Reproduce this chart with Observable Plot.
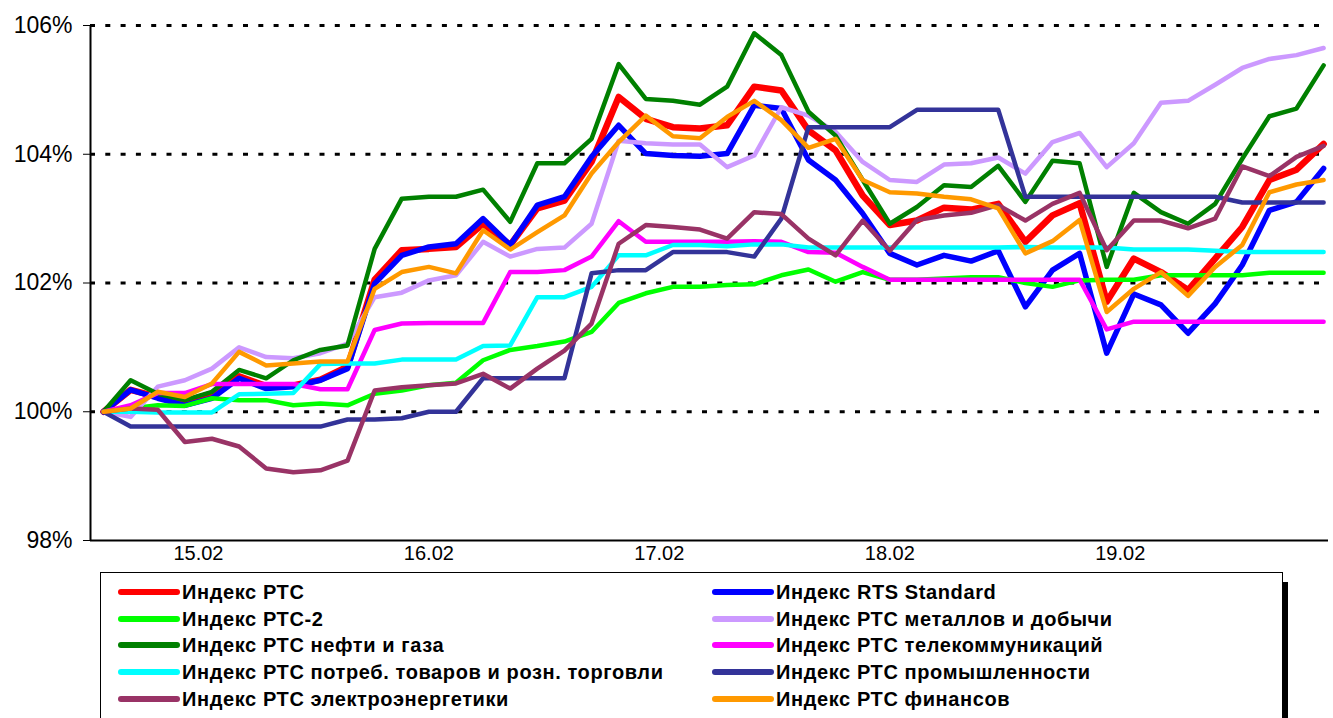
<!DOCTYPE html>
<html>
<head>
<meta charset="utf-8">
<script src="https://cdn.jsdelivr.net/npm/d3@7"></script>
<script src="https://cdn.jsdelivr.net/npm/@observablehq/plot@0.6"></script>
<style>
  html, body { margin: 0; padding: 0; background: #fff; overflow: hidden; width: 1333px; height: 718px; }
  #chart { position: absolute; left: 0; top: 0; }
  #legend { position: absolute; left: 100px; top: 572px; width: 1181px; height: 170px; border: 1px solid #000; box-shadow: 5px 10px 0 #000; background: #fff; font-family: "Liberation Sans", Arial, sans-serif; font-weight: bold; font-size: 20px; letter-spacing: 0.6px; color: #000; }
  .item { position: absolute; height: 26px; line-height: 26px; white-space: nowrap; }
  .sw { position: absolute; top: 10px; width: 62px; height: 6px; border-radius: 3px; }
  .lbl { position: absolute; left: 64px; top: 0; }
</style>
</head>
<body>
<div id="chart"></div>
<div id="legend"></div>
<script>
// ---- data ----
const dateLabels = ["15.02", "16.02", "17.02", "18.02", "19.02"];
const dateTickAt = [3.5, 12, 20.5, 29, 37.5];
const yTicks = [98, 100, 102, 104, 106];
const gridLevels = [100, 102, 104, 106];

const seriesNames = [
  "Индекс РТС",
  "Индекс RTS Standard",
  "Индекс РТС-2",
  "Индекс РТС металлов и добычи",
  "Индекс РТС нефти и газа",
  "Индекс РТС телекоммуникаций",
  "Индекс РТС потреб. товаров и розн. торговли",
  "Индекс РТС промышленности",
  "Индекс РТС электроэнергетики",
  "Индекс РТС финансов"
];

const rts = [100,100.34,100.23,100.16,100.28,100.55,100.40,100.41,100.50,100.70,
  102.05,102.51,102.53,102.56,102.92,102.59,103.16,103.28,103.88,104.89,
  104.55,104.42,104.40,104.45,105.05,104.99,104.37,104.06,103.36,102.90,
  102.97,103.17,103.14,103.23,102.64,103.05,103.24,101.71,102.38,102.17,
  101.89,102.38,102.87,103.60,103.76,104.16];
const rtsStandard = [100,100.34,100.21,100.10,100.21,100.52,100.36,100.39,100.49,100.67,
  101.99,102.43,102.56,102.61,103.00,102.59,103.21,103.34,103.96,104.45,
  104.01,103.98,103.97,104.01,104.76,104.71,103.91,103.60,103.08,102.46,
  102.28,102.43,102.34,102.50,101.63,102.20,102.46,100.91,101.83,101.66,
  101.22,101.68,102.28,103.13,103.26,103.78];
const rts2 = [100,100.05,100.10,100.09,100.21,100.18,100.18,100.10,100.13,100.10,
  100.28,100.33,100.41,100.45,100.80,100.96,101.02,101.09,101.24,101.69,
  101.84,101.94,101.94,101.97,101.98,102.12,102.21,102.02,102.17,102.05,
  102.05,102.07,102.09,102.09,102.00,101.94,102.04,102.05,102.05,102.12,
  102.12,102.12,102.12,102.16,102.16,102.16];
const metals = [100,99.92,100.39,100.49,100.67,101.00,100.85,100.83,100.91,101.06,
  101.78,101.85,102.04,102.12,102.64,102.41,102.53,102.55,102.92,104.21,
  104.17,104.15,104.15,103.80,103.98,104.73,104.60,104.35,103.88,103.60,
  103.57,103.84,103.86,103.95,103.70,104.19,104.33,103.80,104.17,104.80,
  104.83,105.08,105.34,105.48,105.54,105.65];
const oilGas = [100,100.49,100.28,100.18,100.31,100.65,100.52,100.80,100.96,101.03,
  102.53,103.31,103.34,103.34,103.45,102.95,103.86,103.86,104.24,105.40,
  104.86,104.83,104.77,105.05,105.88,105.54,104.66,104.29,103.60,102.92,
  103.18,103.52,103.49,103.82,103.26,103.90,103.86,102.25,103.40,103.10,
  102.92,103.23,103.93,104.59,104.71,105.38];
const telecom = [100,100.10,100.29,100.29,100.43,100.43,100.43,100.43,100.35,100.35,
  101.27,101.37,101.38,101.38,101.38,102.17,102.17,102.20,102.41,102.96,
  102.64,102.64,102.64,102.64,102.65,102.64,102.48,102.47,102.25,102.05,
  102.05,102.05,102.05,102.05,102.05,102.05,102.05,101.28,101.40,101.40,
  101.40,101.40,101.40,101.40,101.40,101.40];
const consumer = [100,100.00,99.99,99.99,99.99,100.27,100.28,100.29,100.74,100.75,
  100.75,100.81,100.81,100.81,101.02,101.03,101.78,101.78,101.94,102.43,
  102.43,102.59,102.59,102.57,102.60,102.60,102.55,102.55,102.55,102.55,
  102.55,102.55,102.55,102.55,102.56,102.55,102.55,102.55,102.52,102.52,
  102.52,102.50,102.48,102.48,102.48,102.48];
const industry = [100,99.77,99.77,99.77,99.77,99.77,99.77,99.77,99.77,99.88,
  99.88,99.90,100.00,100.00,100.52,100.52,100.52,100.52,102.15,102.20,
  102.20,102.48,102.48,102.48,102.41,103.00,104.42,104.42,104.42,104.42,
  104.69,104.69,104.69,104.69,103.34,103.34,103.34,103.34,103.34,103.34,
  103.34,103.34,103.25,103.25,103.25,103.25];
const power = [100,100.05,100.03,99.53,99.58,99.46,99.12,99.06,99.09,99.24,
  100.33,100.38,100.41,100.44,100.59,100.36,100.67,100.95,101.37,102.61,
  102.90,102.87,102.83,102.69,103.10,103.07,102.69,102.43,102.97,102.50,
  102.98,103.05,103.09,103.21,102.97,103.23,103.40,102.51,102.97,102.97,
  102.85,103.00,103.81,103.66,103.96,104.13];
const finance = [100,100.05,100.31,100.23,100.44,100.93,100.72,100.75,100.78,100.78,
  101.91,102.17,102.25,102.15,102.82,102.52,102.79,103.05,103.70,104.19,
  104.60,104.28,104.25,104.58,104.83,104.53,104.10,104.24,103.60,103.41,
  103.39,103.34,103.30,103.16,102.46,102.65,102.98,101.55,101.91,102.17,
  101.80,102.25,102.59,103.41,103.53,103.60];

const seriesValues = [rts, rtsStandard, rts2, metals, oilGas, telecom, consumer, industry, power, finance];

// ---- styles ----
const seriesColors = ["#FF0000", "#0000FF", "#00FF00", "#CC99FF", "#008000", "#FF00FF", "#00FFFF", "#333399", "#993366", "#FF9900"];
const seriesWidths = [6.5, 5.5, 4.5, 4.5, 4.5, 4.5, 4.5, 4.5, 4.5, 4.5];

const xMin = -0.48, xMax = 45.18;

const lineMarks = seriesValues.map((vals, s) =>
  Plot.line(vals.map((v, i) => ({i, v})), {
    x: "i", y: "v",
    stroke: seriesColors[s],
    strokeWidth: seriesWidths[s],
    strokeLinejoin: "round",
    strokeLinecap: "round"
  })
);

const chart = Plot.plot({
  width: 1333,
  height: 572,
  marginTop: 25,
  marginBottom: 32,
  marginLeft: 90,
  marginRight: 5,
  style: { fontFamily: "'Liberation Sans', Arial, sans-serif", background: "#fff", color: "#000" },
  x: { domain: [xMin, xMax] },
  y: { domain: [98, 106] },
  marks: [
    Plot.ruleY(gridLevels, { stroke: "#000", strokeWidth: 3, strokeDasharray: "5,10.3" }),
    ...lineMarks,
    Plot.ruleX([xMin], { stroke: "#000", strokeWidth: 2 }),
    Plot.ruleY([98], { stroke: "#000", strokeWidth: 2 }),
    Plot.axisY({ ticks: yTicks, tickFormat: d => d + "%", tickSize: 7, tickPadding: 11, fontSize: 23, label: null }),
    Plot.axisX({ ticks: dateTickAt, tickFormat: (d, i) => dateLabels[i], tickSize: 0, tickPadding: 5, fontSize: 20, label: null })
  ]
});
document.getElementById("chart").appendChild(chart);

// ---- legend ----
const legend = document.getElementById("legend");
seriesNames.forEach((name, s) => {
  const col = s % 2, row = Math.floor(s / 2);
  const item = document.createElement("div");
  item.className = "item";
  item.style.left = (col === 0 ? 17 : 611) + "px";
  item.style.top = (6 + row * 26.7) + "px";
  const sw = document.createElement("div");
  sw.className = "sw";
  sw.style.background = seriesColors[s];
  const lbl = document.createElement("div");
  lbl.className = "lbl";
  lbl.textContent = name;
  item.appendChild(sw);
  item.appendChild(lbl);
  legend.appendChild(item);
});
</script>
</body>
</html>
